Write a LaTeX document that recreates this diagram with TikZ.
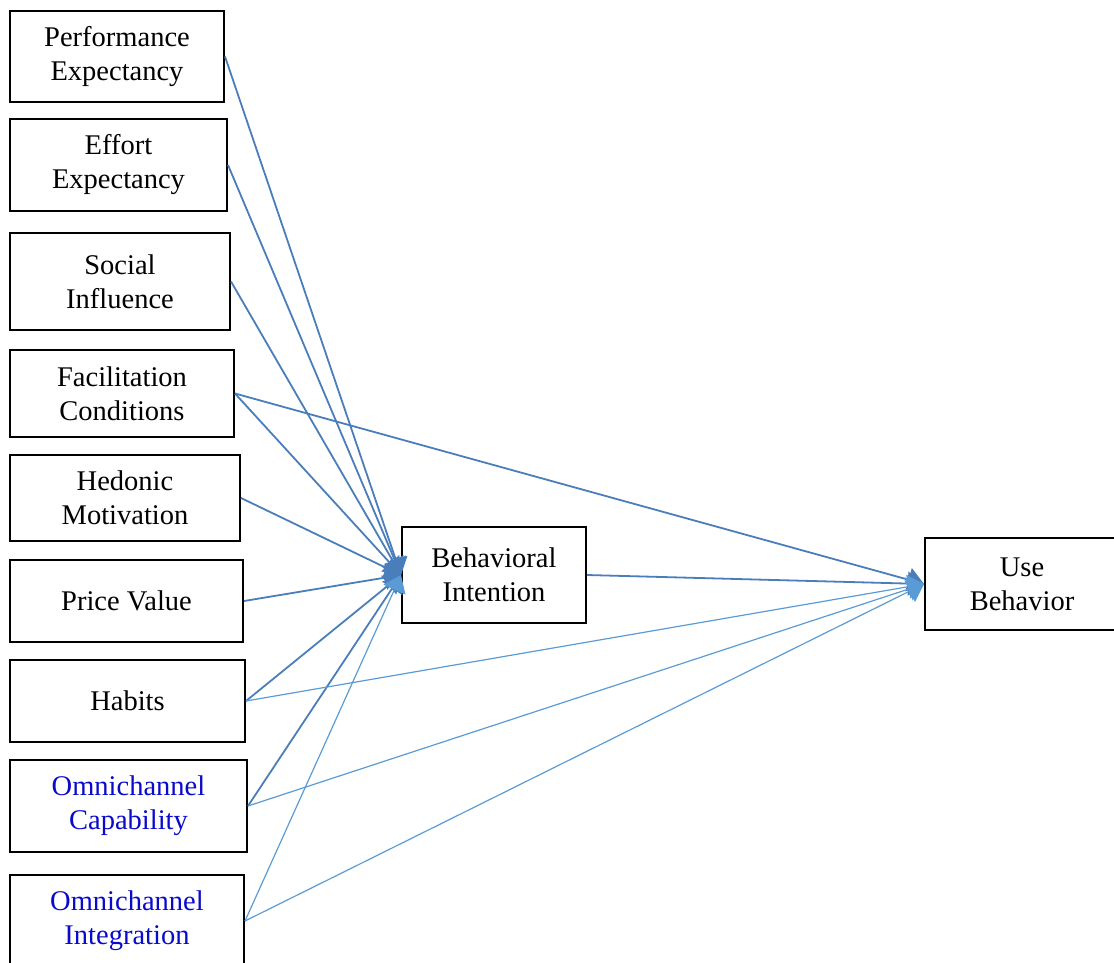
\documentclass[tikz,border=0pt]{standalone}
\usepackage{fontspec}
\setmainfont{Liberation Serif}
\usetikzlibrary{arrows.meta}
\definecolor{dk}{HTML}{4A7EBB}
\definecolor{lt}{HTML}{5B9BD5}
\definecolor{ob}{RGB}{10,10,205}
\begin{document}
\begin{tikzpicture}[x=1pt,y=-1pt,
  box/.style={draw=black,line width=2pt,align=center,inner sep=0pt,fill=white,
    font=\fontsize{28.5}{34}\selectfont},
  newbox/.style={box,text=ob},
  dl/.style={draw=dk,line width=1.8pt,-{Triangle[length=16pt,width=24pt]}},
  ll/.style={draw=lt,line width=1.2pt,-{Triangle[length=16pt,width=24pt]}}]
\useasboundingbox (0,0) rectangle (1114,963);
\node[box,minimum width=214pt,minimum height=91pt] (pe) at (117,56.5) {Performance\\Expectancy};
\node[box,minimum width=217pt,minimum height=92pt] (ee) at (118.5,165) {Effort\\Expectancy};
\node[box,minimum width=220pt,minimum height=97pt] (si) at (120,281.5) {Social\\Influence};
\node[box,minimum width=224pt,minimum height=87pt] (fc) at (122,393.5) {Facilitation\\Conditions};
\node[box,minimum width=230pt,minimum height=86pt] (hm) at (125,498) {Hedonic\\Motivation};
\node[box,minimum width=233pt,minimum height=82pt] (pv) at (126.5,601) {Price Value};
\node[box,minimum width=235pt,minimum height=82pt] (hb) at (127.5,701) {Habits};
\node[newbox,minimum width=237pt,minimum height=92pt] (oc) at (128.5,806) {Omnichannel\\Capability};
\node[newbox,minimum width=234pt,minimum height=92pt] (oi) at (127,921) {Omnichannel\\Integration};
\node[box,minimum width=184pt,minimum height=96pt] (bi) at (494,575) {Behavioral\\Intention};
\node[box,minimum width=194pt,minimum height=92pt] (ub) at (1022,584) {Use\\Behavior};
% dark connectors
\foreach \n in {pe,ee,si,fc,hm,pv,hb,oc} {\draw[dl] (\n.east) -- (bi.west);}
\draw[dl] (fc.east) -- (ub.west);
\draw[dl] (bi.east) -- (ub.west);
% light connectors
\draw[ll] (oi.east) -- (bi.west);
\draw[ll] (hb.east) -- (ub.west);
\draw[ll] (oc.east) -- (ub.west);
\draw[ll] (oi.east) -- (ub.west);
\end{tikzpicture}
\end{document}
